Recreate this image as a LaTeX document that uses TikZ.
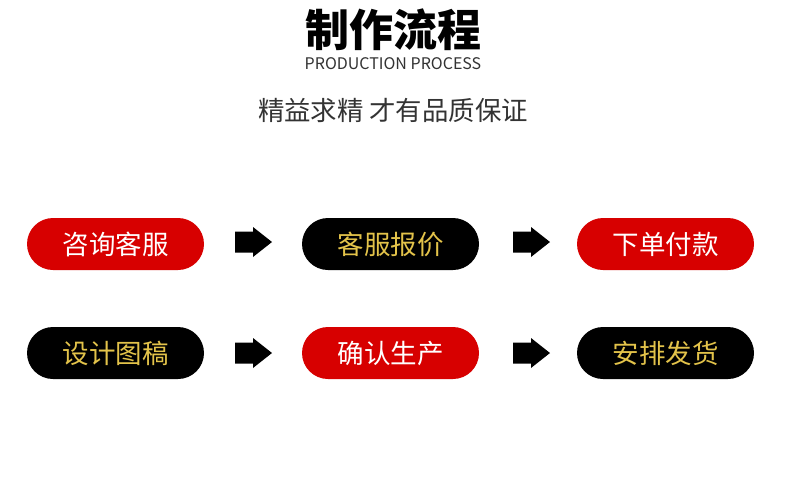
\documentclass[tikz,border=0pt]{standalone}
\usepackage{fontspec}
\setmainfont{Noto Sans CJK SC}
\newfontfamily\cjk{Noto Sans CJK SC}
\definecolor{pillred}{HTML}{D70000}
\definecolor{gold}{HTML}{E3C34A}
\definecolor{subgray}{HTML}{333333}
\begin{document}
\begin{tikzpicture}[x=1pt,y=-1pt,
  pill/.style={rounded corners=26pt, minimum width=177pt, minimum height=52pt, inner sep=0pt, font=\cjk\fontsize{26.5}{26.5}\selectfont},
  redpill/.style={pill, fill=pillred, text=white},
  blackpill/.style={pill, fill=black, text=gold},
  blockarrow/.style={fill=black}
]
\useasboundingbox[fill=white] (0,0) rectangle (790,480);
\node (title) at (393,30) {\cjk\bfseries\fontsize{44}{44}\selectfont 制作流程};
\node[text=subgray] (en) at (393,64) {\cjk\fontsize{16}{16}\selectfont PRODUCTION PROCESS};
\node[text=subgray] (sub) at (393,110) {\cjk\fontsize{26.4}{26.4}\selectfont 精益求精 才有品质保证};

\node[redpill] (p1) at (115.5,244) {咨询客服};
\node[blackpill] (p2) at (390.5,244) {客服报价};
\node[redpill] (p3) at (665.5,244) {下单付款};
\node[blackpill] (p4) at (115.5,353) {设计图稿};
\node[redpill] (p5) at (390.5,353) {确认生产};
\node[blackpill] (p6) at (665.5,353) {安排发货};

\coordinate (a1) at (253.5,242);
\coordinate (a2) at (531.5,242);
\coordinate (a3) at (253.5,353);
\coordinate (a4) at (531.5,353);
\foreach \a in {a1,a2,a3,a4}{
  \fill[blockarrow, shift={(\a)}] (-18.5,-10.5) -- (-0.5,-10.5) -- (-0.5,-15) -- (18.5,0) -- (-0.5,15) -- (-0.5,10.5) -- (-18.5,10.5) -- cycle;
}
\end{tikzpicture}
\end{document}
